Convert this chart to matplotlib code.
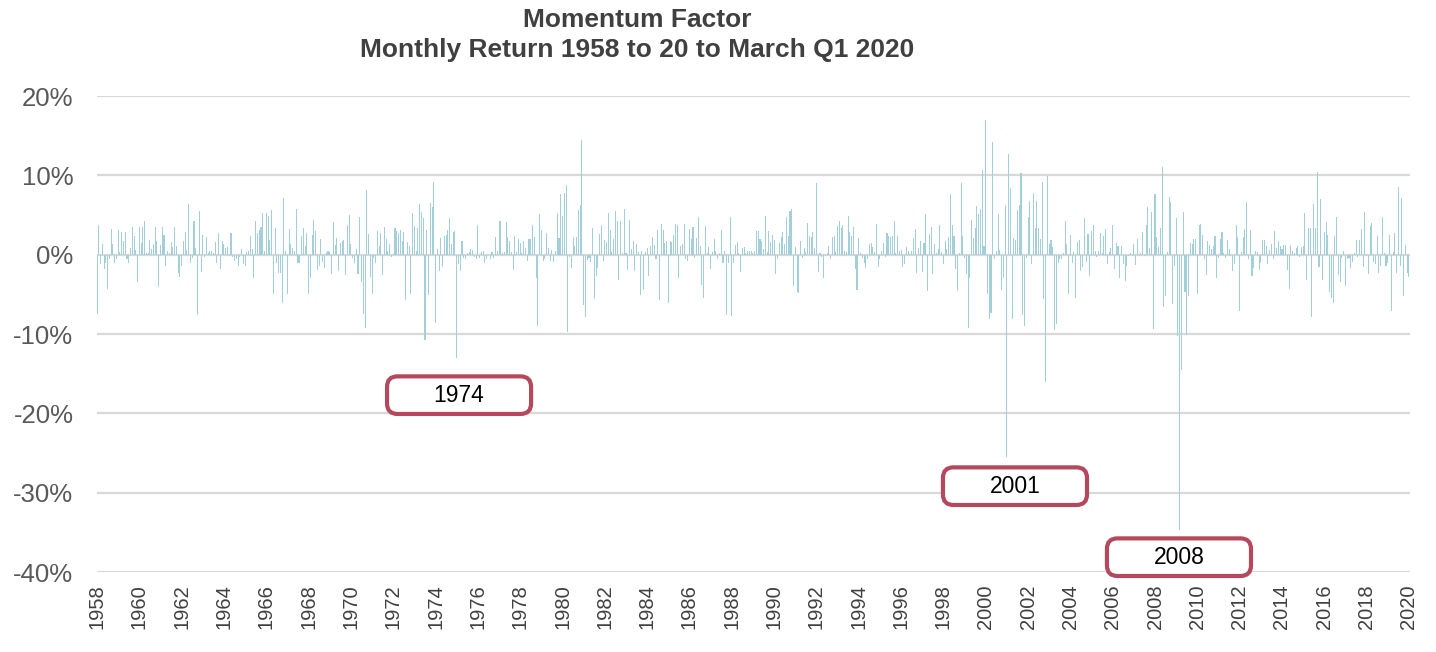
import matplotlib
matplotlib.use("Agg")
import matplotlib.pyplot as plt
from matplotlib.patches import FancyBboxPatch
import numpy as np

plt.rcParams['font.family'] = ['Liberation Sans', 'DejaVu Sans']

# monthly momentum returns (%), Jan 1958 onward
ret_1958_1963 = [-7.5, 3.8, -1.2, 1.4, -1.8, -1.1, -4.3, -0.6, 3.2, 1.3, -1.1, -0.6,
                 3.1, 0.3, 2.9, 1.7, 2.9, -0.5, -1.0, 0.8, 3.5, 2.4, 0.6, -3.5,
                 3.5, 1.5, 3.5, 4.3, 0.2, 0.2, 1.8, 0.7, 1.3, 3.5, 1.7, -4.1,
                 1.2, 3.5, 2.5, -1.4, 0.5, 0.2, 1.6, 1.0, 3.5, 1.1, -2.3, -2.8,
                 -1.4, 1.7, 2.9, 0.6, 6.4, -1.0, -0.4, 4.3, 0.9, -7.6, 5.5, -2.2,
                 2.5, -0.3]
ret_1963_1968 = [2.2, 0.2, 0.5, 0.5, 0.2, 1.6, -1.1, 2.7, -1.8, 1.7, 1.3, 0.8,
                 1.0, -0.2, 2.7, -0.3, -0.8, -0.6, -1.4, -0.3, 0.7, -1.2, -1.4, 0.3,
                 0.5, 2.3, 0.7, -3.0, 4.2, 2.7, 3.1, 3.5, 5.3, 0.5, 5.2, 4.9,
                 1.8, 5.6, -5.0, 3.4, -1.1, -2.3, -2.3, -6.1, 7.2, 0.5, -4.9, 3.2,
                 1.3, 0.8, 0.5, 5.7, -1.1, -1.0, 2.4, 3.4, 1.1, 2.7, -4.9, -3.0,
                 2.5, 4.4]
ret_1968_1973 = [3.0, -1.9, -1.4, 2.0, -0.9, -1.7, 0.2, 0.5, 0.3, -2.4, 4.1, 1.2,
                 2.1, -2.0, 1.5, 1.7, 1.9, -2.6, 3.8, 5.0, 1.3, -0.4, -1.0, 0.7,
                 -2.4, 4.7, -3.5, -7.5, -9.2, 8.2, 2.6, -2.8, -4.9, -0.4, -1.1, 3.0,
                 1.1, 2.7, -2.5, 3.5, 2.0, 0.4, 1.4, -0.3, 0.1, 3.4, 3.0, 2.7,
                 3.1, 1.7, 2.9, -5.7, 1.6, 1.1, -4.9, 5.3, 3.6, 0.5, 3.4, 6.4,
                 5.4, 4.6, -10.7]
ret_1973_1978 = [3.1, -5.1, 6.5, 6.0, 9.1, -8.6, 0.7, -2.0, 2.1, -1.5, 2.3, 2.5,
                 3.1, 4.6, 1.3, 2.8, 3.0, -13.0, -1.2, -2.1, 1.7, -0.4, -0.6, 0.2,
                 0.3, 0.7, 0.6, -0.3, -0.5, 3.8, -0.4, 0.3, 0.5, -1.0, -0.5, 0.0,
                 -0.6, 0.3, -0.4, 2.2, 0.5, 4.3, 4.3, 0.2, 0.3, 4.1, 2.2, 1.7,
                 0.3, -1.9, 2.4, 0.3, 2.0, 1.5, 0.2, 1.7, 0.8, -0.8, 2.0, 2.0,
                 3.8, 2.2, -3.0]
ret_1978_1984 = [-9.0, 5.1, 3.1, -0.8, -0.5, 2.7, 0.9, -0.8, 0.6, -0.9, 0.5, 5.2,
                 2.1, 7.7, 4.9, 7.8, 8.8, -9.7, -0.3, -1.7, 2.2, 1.1, 2.2, 5.6,
                 6.3, 14.4, -6.3, -7.8, -0.7, -0.4, -0.9, 3.4, -5.6, -2.7, -1.7, 2.6,
                 3.8, -0.8, 1.8, 1.6, 5.2, 3.1, 0.3, 2.0, 5.5, 4.3, -3.2, 4.2,
                 0.2, 5.7, 0.2, -1.9, 4.4, 0.7, 1.7, -2.0, 1.4, 0.3, -5.1, 0.5,
                 -4.4, 0.3]
ret_1984_1989 = [0.8, -2.7, 1.1, 2.2, 1.2, -0.6, 3.1, -5.7, 3.9, 3.1, 1.5,
                 1.7, -6.1, 1.7, 1.6, 2.5, 3.9, 3.8, -3.0, 1.1, 1.3, 3.9, -0.5,
                 -0.8, 3.2, 2.0, 3.5, -0.4, 2.1, 4.8, 1.1, -3.8, -5.4, 3.6, 0.2,
                 1.0, -1.8, 0.3, 2.0, 0.5, -0.5, 0.2, 3.1, -1.1, 0.4, -7.6, -1.1,
                 4.8, -7.7, -1.1, 1.2, 1.6, 0.2, -2.2, 0.9, 1.0, 0.2, 0.5, 0.5,
                 0.5, 0.2, 0.4]
ret_1989_1994 = [3.0, 3.0, 2.0, 1.7, 0.7, 4.9, 0.3, 3.0, 1.6, 2.5, 1.9, -2.4,
                 -0.6, 1.5, 2.2, 2.9, 1.3, 4.8, 2.3, 5.5, 5.8, -4.0, 1.0, -4.7,
                 -4.8, 1.7, -0.4, 0.9, 0.3, 4.0, 2.4, 2.2, 2.8, 0.9, 9.0, -2.2,
                 0.2, -0.3, -2.9, -0.2, 0.2, 1.1, -0.5, 2.2, 2.3, 0.3, 3.6, 4.3,
                 3.4, 3.8, 0.5, 0.3, 4.9, 2.9, 2.4, 3.5, -1.8, -4.5, 2.1, 0.2,
                 -0.4, -1.1]
ret_1994_1999 = [-1.7, -0.6, 1.4, 1.5, 1.0, 0.3, 3.9, -1.5, -0.6, 0.4, 1.5,
                 -0.3, 2.7, 2.3, 2.2, 2.3, 4.3, 0.2, 2.3, 0.5, 0.6, -1.6, -1.2,
                 1.0, 0.5, 0.1, 0.4, 2.1, 3.2, -2.3, 0.9, 1.7, -2.2, 1.5, 5.1,
                 -4.6, 2.6, 3.5, -2.4, 1.4, 0.2, 0.7, 3.8, 0.3, -1.2, 1.7, 0.7,
                 2.2, 7.7, 3.8, 2.4, -1.8, -4.6, 0.2, 9.0, 2.3, -0.4, -2.4, -9.2,
                 -3.0, 4.4, 2.1]
ret_1999_2004 = [3.3, 6.1, 5.1, 5.8, 10.7, 1.1, 17.0, -5.0, -8.1, -7.3, 14.2, -0.5,
                 0.5, 5.1, 0.6, -4.5, -3.0, 6.2, -25.5, 12.7, 8.4, -8.1, 2.1, 1.9,
                 5.6, 6.2, 10.3, -7.6, -9.0, -0.4, 4.8, 6.8, -1.2, 7.8, 3.4, 6.8,
                 3.4, 2.0, 9.2, -5.6, -16.0, 9.9, 1.3, 1.8, 1.0, -9.5, -8.8, -1.1,
                 -0.6, -0.6, 0.2, 4.2, 1.4, -4.9, 2.5, -1.1, 0.3, -5.4, 1.6, 1.9,
                 -2.0, -1.5, 4.6]
ret_2004_2009 = [-0.9, 2.6, -2.7, 3.0, 3.7, 0.5, -0.3, 0.5, 2.7, 0.2, 2.4, 3.2,
                 -1.2, 0.3, 0.8, 3.7, -1.8, 1.5, 1.1, -3.0, 1.1, -1.2, -3.3, -1.4,
                 -0.2, 0.2, -0.2, 1.3, -1.3, 2.0, -0.2, 0.2, 2.8, -0.2, 3.7,
                 6.0, 0.8, 5.4, -9.4, 7.6, 2.2, 1.0, 3.4, 11.1, -6.6, -5.2, 0.3,
                 7.3, 6.7, -6.2, -1.4, 4.6, -10.2, -34.7, -14.5, 5.4, -4.7, -10.1, -5.2,
                 1.5, 1.3, 2.0]
ret_2009_2015 = [2.0, -4.9, 3.7, 3.9, 2.5, -0.5, -2.6, 1.7, 1.2, 0.7, 1.1, 2.3,
                 -2.9, -0.4, 2.0, 2.8, 0.2, -0.4, 1.9, 0.7, -0.2, -2.1, -1.2, 3.8,
                 2.2, -7.1, 0.3, 2.2, 3.2, 6.7, -0.6, 3.1, -2.7, -1.7, 0.4, 0.3,
                 -1.9, -1.0, 1.9, 1.8, 1.1, -1.2, 0.6, 1.4, -0.5, 3.0, 0.8, 1.7,
                 1.1, 0.7, 1.2, 1.2, -1.9, -4.3, 1.2, 0.5, 0.2, 0.8, 1.1, -0.3,
                 1.0, 1.1, 5.3, -3.2]
ret_2015_2020 = [3.4, 3.4, -7.9, 6.4, 3.4, 10.4, -1.6, 7.0, -3.2, 2.8, 4.1, 2.5,
                 -4.7, -5.5, -6.1, 2.4, 4.8, -2.5, -3.4, -0.4, 0.4, -3.9, -0.6, -0.4,
                 -1.7, -0.9, 0.2, 1.9, -0.3, 1.9, 3.2, -1.5, 5.4, -0.2, -2.4, 3.6,
                 4.0, -0.9, -1.2, 2.4, -2.3, -1.4, 4.8, 0.2, -1.4, -1.1, 2.5, -7.1,
                 0.3, 2.7, -2.3, 8.5, -1.4, 7.1, -5.2, 1.2, -2.3, -2.8, 6.6, 0.5,
                 7.4]

returns = np.array(ret_1958_1963 + ret_1963_1968 + ret_1968_1973 + ret_1973_1978 +
                   ret_1978_1984 + ret_1984_1989 + ret_1989_1994 + ret_1994_1999 +
                   ret_1999_2004 + ret_2004_2009 + ret_2009_2015 + ret_2015_2020)
months = 1958 + np.arange(len(returns)) / 12.0

year_ticks = list(range(1958, 2021, 2))
y_ticks = [20, 10, 0, -10, -20, -30, -40]
events = ["1974", "2001", "2008"]

fig = plt.figure(figsize=(14.36, 6.52), dpi=100)
ax = fig.add_axes([97 / 1436, 1 - 572 / 652, 1313 / 1436, 476 / 652])

ax.bar(months, returns, width=0.05, color="#a3cfdb", linewidth=0, zorder=3)

ax.set_xlim(1958, 2020.05)
ax.set_ylim(-40, 20)
ax.set_yticks(y_ticks)
ax.set_yticklabels([f"{v}%" for v in y_ticks])
ax.set_xticks(year_ticks)
ax.set_xticklabels([str(y) for y in year_ticks], rotation=90)
ax.tick_params(axis="y", length=0, pad=17, labelsize=18.5, labelcolor="#595959")
ax.tick_params(axis="x", length=0, pad=9, labelsize=14.5, labelcolor="#404040")
ax.grid(axis="y", color="#d9d9d9", linewidth=1.6, zorder=0)
for s in ax.spines.values():
    s.set_visible(False)

fig.text(0.444, 0.969, "Momentum Factor", ha="center", va="center",
         fontsize=19, fontweight="bold", color="#404040")
fig.text(0.444, 0.923, "Monthly Return 1958 to 20 to March Q1 2020", ha="center",
         va="center", fontsize=19, fontweight="bold", color="#404040")

# callout boxes (axes fraction)
boxes = [(0.2209, 0.332), (0.6443, 0.1408), (0.7692, -0.0084)]
bw, bh = 0.1097, 0.079
for label, (bx, by) in zip(events, boxes):
    p = FancyBboxPatch((bx, by), bw, bh, boxstyle="round,pad=0,rounding_size=0.008",
                       mutation_aspect=2.76, transform=ax.transAxes, clip_on=False,
                       facecolor="white", edgecolor="#b5485d", linewidth=3, zorder=5)
    ax.add_patch(p)
    ax.text(bx + bw / 2, by + bh / 2, label, transform=ax.transAxes, ha="center",
            va="center", fontsize=16.5, color="black", zorder=6, clip_on=False)

fig.savefig("out.png", dpi=100)
